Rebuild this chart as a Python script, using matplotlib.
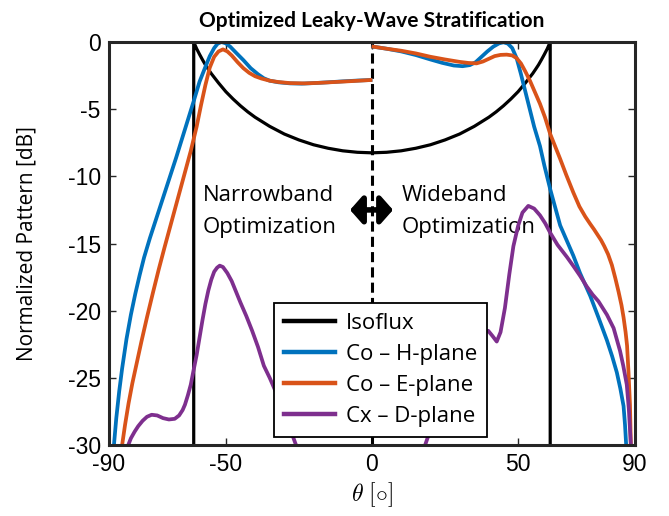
import numpy as np
import matplotlib
matplotlib.use('Agg')
import matplotlib.pyplot as plt

plt.rcParams['mathtext.fontset'] = 'cm'
plt.rcParams['axes.unicode_minus'] = False

# ---------------- data ----------------
iso_theta = [-61, -61, -60, -59, -58, -57, -56, -55, -52.5, -50, -47.5, -45, -42.5, -40,
             -35, -30, -25, -20, -15, -10, -5, 0, 5, 10, 15, 20, 25, 30, 35, 40, 42.5,
             45, 47.5, 50, 52.5, 55, 56, 57, 58, 59, 60, 61, 61]
iso_db = [-30, 0, -0.5, -0.92, -1.32, -1.7, -2.03, -2.35, -3.05, -3.7, -4.25, -4.75, -5.2,
          -5.6, -6.28, -6.85, -7.29, -7.65, -7.91, -8.1, -8.21, -8.25, -8.21, -8.1, -7.91,
          -7.65, -7.29, -6.85, -6.28, -5.6, -5.2, -4.75, -4.25, -3.7, -3.05, -2.35, -2.03,
          -1.7, -1.32, -0.92, -0.5, 0, -30]

# Co - H-plane (left half: narrowband design, right half: wideband design)
h_left_theta = [-88.3, -87.5, -86.5, -85.5, -84.0, -82.5, -81.0, -79.5, -78.0, -76.0, -73.0,
                -70.0, -67.0, -64.0, -61.0, -59.0, -57.0, -55.5, -54.0, -52.8, -51.5, -50.0,
                -48.5, -46.5, -44.0, -41.5, -39.0, -37.0, -35.0, -32.0, -28.0, -24.0, -20.0,
                -15.0, -10.0, -5.0, -0.5]
h_left_db = [-30.0, -28.0, -26.0, -24.3, -22.1, -20.3, -18.75, -17.35, -16.05, -14.6, -12.6,
             -10.6, -8.6, -6.5, -4.4, -2.95, -1.85, -1.05, -0.45, -0.12, 0.0, -0.1, -0.35,
             -0.8, -1.35, -1.95, -2.4, -2.7, -2.88, -3.0, -3.08, -3.1, -3.06, -3.0, -2.93,
             -2.87, -2.83]
h_right_theta = [0.5, 5, 10, 15, 20, 24, 28, 31, 33.5, 35.5, 37.5, 39.5, 41.5, 43.5, 45.0,
                 46.5, 48.0, 49.5, 51.0, 52.5, 54.0, 55.5, 57.5, 59.0, 61.0, 64.4, 68.9,
                 71.2, 74.7, 77.5, 80.4, 82.2, 83.8, 85.0, 86.1, 86.6, 87.0]
h_right_db = [-0.35, -0.5, -0.7, -0.97, -1.3, -1.55, -1.75, -1.8, -1.72, -1.5, -1.1, -0.7,
              -0.35, -0.1, -0.02, -0.12, -0.45, -1.2, -2.4, -3.7, -5.0, -6.3, -7.75, -9.2,
              -10.96, -13.65, -15.9, -17.2, -18.9, -20.5, -22.2, -23.4, -24.6, -25.8, -27.1,
              -28.5, -30.0]

# Co - E-plane
e_left_theta = [-85.5, -84.5, -83.3, -82.0, -80.5, -78.9, -77.0, -75.0, -73.0, -71.0, -68.0,
                -65.0, -62.0, -60.0, -58.5, -57.0, -55.5, -54.0, -52.5, -51.0, -49.5, -48.0,
                -46.0, -44.0, -42.0, -40.0, -37.8, -35.0, -32.0, -28.0, -23.0, -18.0, -12.0,
                -6.0, -0.5]
e_left_db = [-30.0, -28.5, -26.9, -25.4, -23.9, -22.3, -20.5, -18.7, -16.95, -15.3, -12.9,
             -10.5, -8.1, -6.3, -4.7, -3.2, -1.9, -1.1, -0.7, -0.55, -0.7, -1.0, -1.5, -1.95,
             -2.3, -2.55, -2.72, -2.88, -2.98, -3.06, -3.08, -3.04, -2.97, -2.9, -2.83]
e_right_theta = [0.5, 5, 10, 15, 20, 25, 30, 33, 35.8, 38, 40, 42, 44, 46.1, 48, 49.5, 51,
                 52.5, 54.1, 55.8, 57.5, 59.2, 61, 64.4, 66.5, 68.9, 71.0, 73.0, 74.7, 76.0,
                 77.2, 78.4, 79.5, 80.8, 82.1, 83.3, 84.4, 85.4, 86.1, 86.8, 87.3, 87.8, 88.3,
                 88.6]
e_right_db = [-0.35, -0.5, -0.65, -0.85, -1.1, -1.3, -1.48, -1.56, -1.59, -1.45, -1.25,
              -1.05, -0.96, -0.94, -1.0, -1.2, -1.6, -2.2, -2.9, -3.75, -4.6, -5.6, -6.85,
              -8.7, -9.9, -11.2, -12.25, -13.0, -13.55, -13.95, -14.35, -14.75, -15.2,
              -15.8, -16.6, -17.6, -18.6, -19.6, -20.5, -21.6, -22.6, -24.6, -27.0, -30.0]

# Cx - D-plane
d_left_theta = [-83.4, -82.5, -81.2, -80.0, -78.5, -77.0, -75.4, -73.5, -71.5, -69.5, -67.5,
                -66.0, -64.8, -64.0, -63.0, -62.0, -61.2, -60.0, -59.0, -58.0, -57.0, -56.0,
                -55.0, -54.0, -53.0, -52.1, -51.0, -49.5, -48.0, -46.5, -45.0, -43.0, -41.0,
                -39.0, -37.0, -35.0, -33.8, -32.0, -30.0, -28.0, -26.0]
d_left_db = [-30.0, -29.5, -29.0, -28.6, -28.2, -27.9, -27.75, -27.8, -28.0, -28.1, -28.05,
             -27.8, -27.4, -27.0, -26.3, -25.5, -24.6, -23.3, -22.0, -20.7, -19.5, -18.5,
             -17.7, -17.1, -16.8, -16.65, -16.75, -17.2, -17.8, -18.6, -19.4, -20.4, -21.5,
             -22.7, -24.1, -25.0, -25.6, -26.5, -27.6, -28.8, -30.0]
d_right_theta = [18.2, 22, 26, 30, 34, 37, 39.8, 41.3, 42.7, 44.0, 45.5, 47.0, 48.4, 50.0,
                 51.5, 53.5, 55.5, 57.5, 59.3, 61.0, 63.5, 66.7, 69.0, 71.2, 73.5, 75.5,
                 77.5, 80.4, 82.7, 84.9, 86.0, 87.2, 87.9, 88.6]
d_right_db = [-30.0, -27.6, -25.5, -23.8, -22.4, -21.6, -21.5, -21.9, -22.3, -21.6, -19.8,
              -17.3, -15.2, -13.7, -12.7, -12.2, -12.4, -12.9, -13.5, -14.2, -15.1, -16.0,
              -16.7, -17.4, -18.2, -18.8, -19.3, -20.3, -21.3, -23.0, -24.1, -25.5, -27.3,
              -30.0]

legend_labels = ['Isoflux', 'Co \u2013 H-plane', 'Co \u2013 E-plane', 'Cx \u2013 D-plane']
x_ticks = [-90, -50, 0, 50, 90]
y_ticks = [-30, -25, -20, -15, -10, -5, 0]
split_theta = 0
arrow_y = -12.5
arrow_span = (-7.5, 7.2)

BLUE = '#0072BD'
ORANGE = '#D95319'
PURPLE = '#7E2F8E'
AX_COL = '#262626'


def join(lt, ld, rt, rd):
    t = np.concatenate([lt, [np.nan], rt])
    d = np.concatenate([ld, [np.nan], rd])
    return t, d


h_t, h_d = join(h_left_theta, h_left_db, h_right_theta, h_right_db)
e_t, e_d = join(e_left_theta, e_left_db, e_right_theta, e_right_db)
d_t, d_d = join(d_left_theta, d_left_db, d_right_theta, d_right_db)

# ---------------- figure ----------------
fig = plt.figure(figsize=(6.69, 5.16), dpi=100)
ax = fig.add_axes([0.1629, 0.1376, 0.7862, 0.781])

TXT = 'Open Sans'

l_iso, = ax.plot(iso_theta, iso_db, color='k', lw=2.3, zorder=3, solid_joinstyle='round')
ax.axvline(split_theta, color='k', lw=2.2, ls=(0, (3.3, 1.7)), zorder=2)
l_h, = ax.plot(h_t, h_d, color=BLUE, lw=2.7, zorder=4)
l_e, = ax.plot(e_t, e_d, color=ORANGE, lw=2.7, zorder=5)
l_d, = ax.plot(d_t, d_d, color=PURPLE, lw=2.7, zorder=6)

ax.annotate('', xy=(arrow_span[1], arrow_y), xytext=(arrow_span[0], arrow_y),
            arrowprops=dict(arrowstyle='<|-|>,head_width=0.85,head_length=0.75',
                            lw=4, color='k', mutation_scale=10,
                            shrinkA=0, shrinkB=0), zorder=7)

ax.text(-57.9, -11.45, 'Narrowband', fontsize=16, family=TXT, va='center', ha='left')
ax.text(-57.9, -13.8, 'Optimization', fontsize=16, family=TXT, va='center', ha='left')
ax.text(10.0, -11.45, 'Wideband', fontsize=16, family=TXT, va='center', ha='left')
ax.text(10.0, -13.8, 'Optimization', fontsize=16, family=TXT, va='center', ha='left')

ax.set_xlim(-90, 90)
ax.set_ylim(-30, 0)
ax.set_xticks(x_ticks)
ax.set_yticks(y_ticks)
ax.tick_params(direction='in', length=5, width=1.0, top=True, right=True,
               labelsize=16.5, colors=AX_COL, pad=6)
for lab in ax.get_xticklabels() + ax.get_yticklabels():
    lab.set_family('Liberation Sans')
    lab.set_color('k')
for sp in ax.spines.values():
    sp.set_linewidth(2.2)
    sp.set_color(AX_COL)
    sp.set_zorder(10)

ax.set_xlabel(r'$\theta\ [\circ]$', fontsize=17, labelpad=3)
ax.set_ylabel('Normalized Pattern [dB]', fontsize=15, family=TXT)
ax.yaxis.set_label_coords(-0.135, 0.5)
ax.set_title('Optimized Leaky-Wave Stratification', fontsize=15, fontweight='bold',
             family='Lato', pad=11)

leg = ax.legend([l_iso, l_h, l_e, l_d], legend_labels, loc='lower left',
                bbox_to_anchor=(0.3137, 0.0199), frameon=True, fancybox=False,
                edgecolor='k', framealpha=1, borderpad=0.45, handlelength=2.3,
                handletextpad=0.5, labelspacing=0.45, borderaxespad=0,
                prop={'family': TXT, 'size': 16})
leg.get_frame().set_linewidth(1.3)
leg.set_zorder(20)
for ln in leg.get_lines():
    ln.set_linewidth(3.2)

fig.savefig('out.png', dpi=100)
